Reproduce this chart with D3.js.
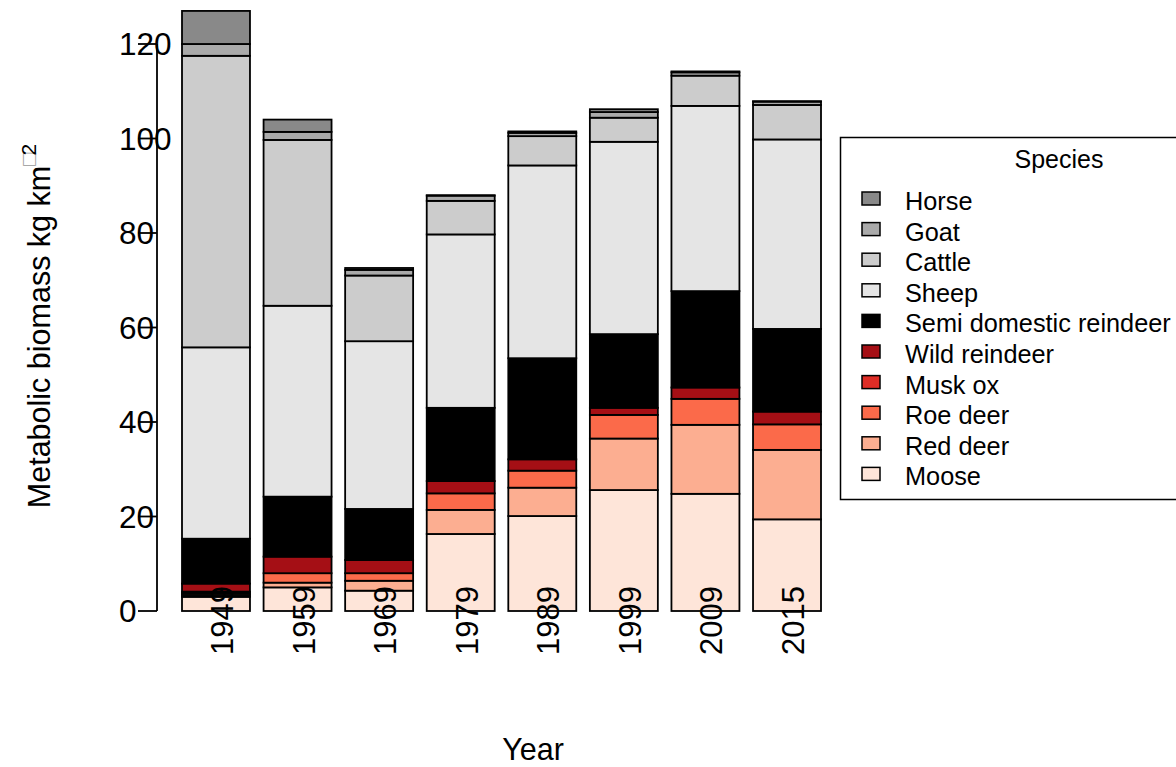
<!DOCTYPE html>
<html>
<head>
<meta charset="utf-8">
<script src="https://cdn.jsdelivr.net/npm/d3@7"></script>
<style>
  html, body { margin: 0; padding: 0; background: #fff; }
  svg { display: block; font-family: "Liberation Sans", Arial, sans-serif; }
</style>
</head>
<body>
<svg id="chart" width="1176" height="767"></svg>
<script>
// Survey years (x categories)
const years = ["1949", "1959", "1969", "1979", "1989", "1999", "2009", "2015"];

// Species in stacking order, bottom to top
const species = ["Moose", "Red deer", "Roe deer", "Musk ox", "Wild reindeer",
                 "Semi domestic reindeer", "Sheep", "Cattle", "Goat", "Horse"];

// Fill colour per species (same order as above)
const speciesColors = ["#fee5d9", "#fcae91", "#fb6a4a", "#de2d26", "#a50f15",
                       "#000000", "#e5e5e5", "#cccccc", "#aaaaaa", "#898989"];

// Metabolic biomass (kg km^-2) per species, one value per year
const moose      = [3.0, 5.0, 4.3, 16.3, 20.1, 25.6, 24.8, 19.4];
const redDeer    = [0.4, 1.0, 2.1, 5.1, 6.0, 10.9, 14.6, 14.7];
const roeDeer    = [0.4, 2.0, 1.6, 3.5, 3.6, 5.0, 5.5, 5.4];
const muskOx     = [0.3, 0.0, 0.0, 0.0, 0.0, 0.0, 0.0, 0.0];
const wildRein   = [1.7, 3.5, 2.8, 2.6, 2.4, 1.5, 2.4, 2.7];
const semiRein   = [9.5, 12.7, 10.8, 15.5, 21.4, 15.6, 20.4, 17.5];
const sheep      = [40.5, 40.4, 35.5, 36.7, 40.8, 40.7, 39.2, 40.1];
const cattle     = [61.7, 35.1, 13.9, 7.1, 6.2, 5.1, 6.4, 7.3];
const goat       = [2.5, 1.7, 1.2, 1.1, 0.7, 1.2, 0.7, 0.7];
const horse      = [7.0, 2.6, 0.4, 0.1, 0.3, 0.6, 0.2, 0.1];

const seriesValues = [moose, redDeer, roeDeer, muskOx, wildRein,
                      semiRein, sheep, cattle, goat, horse];

// Y axis ticks and labels
const yTicks = [0, 20, 40, 60, 80, 100, 120];

// Legend lists species from top of the stack down
const legendOrder = species.slice().reverse();

// Build table rows for d3.stack
const table = years.map((y, i) => {
  const row = { year: y };
  species.forEach((s, k) => { row[s] = seriesValues[k][i]; });
  return row;
});

const svg = d3.select("#chart");

const x = d3.scaleBand()
  .domain(years)
  .range([182, 821])
  .paddingInner(0.1667)
  .paddingOuter(0);

const y = d3.scaleLinear().domain([0, 120]).range([611, 44]);

const color = d3.scaleOrdinal().domain(species).range(speciesColors);

const stacked = d3.stack().keys(species)(table);

// Stacked bars
const layers = svg.append("g").attr("class", "bars")
  .selectAll("g")
  .data(stacked)
  .join("g")
  .attr("fill", d => color(d.key));

layers.selectAll("rect")
  .data(d => d)
  .join("rect")
  .attr("x", d => x(d.data.year))
  .attr("width", x.bandwidth())
  .attr("y", d => y(d[1]))
  .attr("height", d => y(d[0]) - y(d[1]))
  .attr("stroke", "#000")
  .attr("stroke-width", 1.8);

// Y axis: line from first to last tick, ticks pointing outward
const yAxis = svg.append("g").attr("class", "y-axis");
yAxis.append("line")
  .attr("x1", 157).attr("x2", 157)
  .attr("y1", y(0)).attr("y2", y(120))
  .attr("stroke", "#000").attr("stroke-width", 1.8);
yAxis.selectAll("line.tick")
  .data(yTicks)
  .join("line")
  .attr("class", "tick")
  .attr("x1", 138).attr("x2", 157)
  .attr("y1", d => y(d)).attr("y2", d => y(d))
  .attr("stroke", "#000").attr("stroke-width", 1.8);
yAxis.selectAll("text")
  .data(yTicks)
  .join("text")
  .attr("x", 119)
  .attr("y", d => y(d))
  .attr("dy", "0.36em")
  .attr("font-size", 31.5)
  .attr("fill", "#000")
  .text(d => d);

// X category labels, rotated
svg.append("g").attr("class", "x-labels")
  .selectAll("text")
  .data(years)
  .join("text")
  .attr("transform", d => `translate(${x(d) + x.bandwidth() / 2 + 17},586) rotate(-90)`)
  .attr("text-anchor", "end")
  .attr("font-size", 31)
  .attr("fill", "#000")
  .text(d => d);

// Axis titles
svg.append("text")
  .attr("x", 533).attr("y", 760)
  .attr("text-anchor", "middle")
  .attr("font-size", 30.5)
  .text("Year");

const yTitle = svg.append("text")
  .attr("transform", "translate(50,326) rotate(-90)")
  .attr("text-anchor", "middle")
  .attr("font-size", 30.5);
yTitle.append("tspan").text("Metabolic biomass kg km");
yTitle.append("tspan").attr("dy", -14).attr("font-size", 22).attr("fill", "#999").text("\u25A1");
yTitle.append("tspan").attr("dx", -3).attr("font-size", 21).text("2");

// Legend
const legend = svg.append("g").attr("class", "legend");
legend.append("rect")
  .attr("x", 840.5).attr("y", 137.5)
  .attr("width", 400).attr("height", 362)
  .attr("fill", "#fff").attr("stroke", "#000").attr("stroke-width", 1.5);
legend.append("text")
  .attr("x", 1059).attr("y", 168)
  .attr("text-anchor", "middle")
  .attr("font-size", 25)
  .text("Species");

const rows = legend.selectAll("g.row")
  .data(legendOrder)
  .join("g")
  .attr("class", "row")
  .attr("transform", (d, i) => `translate(0,${210 + i * 30.6})`);
rows.append("rect")
  .attr("x", 862).attr("y", -18)
  .attr("width", 18).attr("height", 13)
  .attr("fill", d => color(d))
  .attr("stroke", "#000").attr("stroke-width", 1.5);
rows.append("text")
  .attr("x", 905).attr("y", 0)
  .attr("font-size", 25.3)
  .text(d => d);
</script>
</body>
</html>
